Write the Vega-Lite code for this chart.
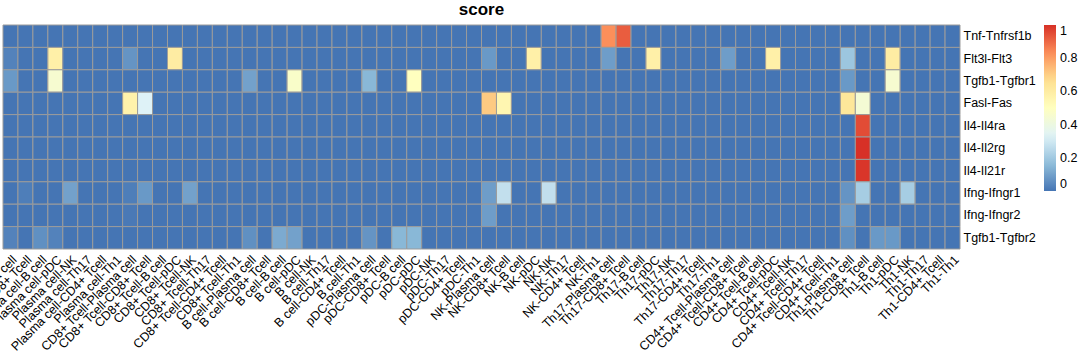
{
  "$schema": "https://vega.github.io/schema/vega-lite/v6.json",
  "autosize": {"type": "none"},
  "width": 957,
  "height": 224,
  "padding": {"left": 3, "top": 25, "right": 120, "bottom": 112},
  "background": "white",
  "title": {"text": "score", "fontSize": 17, "fontWeight": "bold", "font": "Liberation Sans", "color": "#000000", "anchor": "middle", "offset": 6},
  "config": {"view": {"stroke": null}},
  "datasets": {
    "cells": [
{"x":"Plasma cell-Plasma cell","y":"Tnf-Tnfrsf1b","v":0},{"x":"Plasma cell-CD8+ Tcell","y":"Tnf-Tnfrsf1b","v":0},{"x":"Plasma cell-B cell","y":"Tnf-Tnfrsf1b","v":0},{"x":"Plasma cell-pDC","y":"Tnf-Tnfrsf1b","v":0},{"x":"Plasma cell-NK","y":"Tnf-Tnfrsf1b","v":0},{"x":"Plasma cell-Th17","y":"Tnf-Tnfrsf1b","v":0},{"x":"Plasma cell-CD4+ Tcell","y":"Tnf-Tnfrsf1b","v":0},{"x":"Plasma cell-Th1","y":"Tnf-Tnfrsf1b","v":0},
{"x":"CD8+ Tcell-Plasma cell","y":"Tnf-Tnfrsf1b","v":0},{"x":"CD8+ Tcell-CD8+ Tcell","y":"Tnf-Tnfrsf1b","v":0},{"x":"CD8+ Tcell-B cell","y":"Tnf-Tnfrsf1b","v":0},{"x":"CD8+ Tcell-pDC","y":"Tnf-Tnfrsf1b","v":0},{"x":"CD8+ Tcell-NK","y":"Tnf-Tnfrsf1b","v":0},{"x":"CD8+ Tcell-Th17","y":"Tnf-Tnfrsf1b","v":0},{"x":"CD8+ Tcell-CD4+ Tcell","y":"Tnf-Tnfrsf1b","v":0},{"x":"CD8+ Tcell-Th1","y":"Tnf-Tnfrsf1b","v":0},
{"x":"B cell-Plasma cell","y":"Tnf-Tnfrsf1b","v":0},{"x":"B cell-CD8+ Tcell","y":"Tnf-Tnfrsf1b","v":0},{"x":"B cell-B cell","y":"Tnf-Tnfrsf1b","v":0},{"x":"B cell-pDC","y":"Tnf-Tnfrsf1b","v":0},{"x":"B cell-NK","y":"Tnf-Tnfrsf1b","v":0},{"x":"B cell-Th17","y":"Tnf-Tnfrsf1b","v":0},{"x":"B cell-CD4+ Tcell","y":"Tnf-Tnfrsf1b","v":0},{"x":"B cell-Th1","y":"Tnf-Tnfrsf1b","v":0},
{"x":"pDC-Plasma cell","y":"Tnf-Tnfrsf1b","v":0},{"x":"pDC-CD8+ Tcell","y":"Tnf-Tnfrsf1b","v":0},{"x":"pDC-B cell","y":"Tnf-Tnfrsf1b","v":0},{"x":"pDC-pDC","y":"Tnf-Tnfrsf1b","v":0},{"x":"pDC-NK","y":"Tnf-Tnfrsf1b","v":0},{"x":"pDC-Th17","y":"Tnf-Tnfrsf1b","v":0},{"x":"pDC-CD4+ Tcell","y":"Tnf-Tnfrsf1b","v":0},{"x":"pDC-Th1","y":"Tnf-Tnfrsf1b","v":0},
{"x":"NK-Plasma cell","y":"Tnf-Tnfrsf1b","v":0},{"x":"NK-CD8+ Tcell","y":"Tnf-Tnfrsf1b","v":0},{"x":"NK-B cell","y":"Tnf-Tnfrsf1b","v":0},{"x":"NK-pDC","y":"Tnf-Tnfrsf1b","v":0},{"x":"NK-NK","y":"Tnf-Tnfrsf1b","v":0},{"x":"NK-Th17","y":"Tnf-Tnfrsf1b","v":0},{"x":"NK-CD4+ Tcell","y":"Tnf-Tnfrsf1b","v":0},{"x":"NK-Th1","y":"Tnf-Tnfrsf1b","v":0},
{"x":"Th17-Plasma cell","y":"Tnf-Tnfrsf1b","v":0.83},{"x":"Th17-CD8+ Tcell","y":"Tnf-Tnfrsf1b","v":0.92},{"x":"Th17-B cell","y":"Tnf-Tnfrsf1b","v":0},{"x":"Th17-pDC","y":"Tnf-Tnfrsf1b","v":0},{"x":"Th17-NK","y":"Tnf-Tnfrsf1b","v":0},{"x":"Th17-Th17","y":"Tnf-Tnfrsf1b","v":0},{"x":"Th17-CD4+ Tcell","y":"Tnf-Tnfrsf1b","v":0},{"x":"Th17-Th1","y":"Tnf-Tnfrsf1b","v":0},
{"x":"CD4+ Tcell-Plasma cell","y":"Tnf-Tnfrsf1b","v":0},{"x":"CD4+ Tcell-CD8+ Tcell","y":"Tnf-Tnfrsf1b","v":0},{"x":"CD4+ Tcell-B cell","y":"Tnf-Tnfrsf1b","v":0},{"x":"CD4+ Tcell-pDC","y":"Tnf-Tnfrsf1b","v":0},{"x":"CD4+ Tcell-NK","y":"Tnf-Tnfrsf1b","v":0},{"x":"CD4+ Tcell-Th17","y":"Tnf-Tnfrsf1b","v":0},{"x":"CD4+ Tcell-CD4+ Tcell","y":"Tnf-Tnfrsf1b","v":0},{"x":"CD4+ Tcell-Th1","y":"Tnf-Tnfrsf1b","v":0},
{"x":"Th1-Plasma cell","y":"Tnf-Tnfrsf1b","v":0},{"x":"Th1-CD8+ Tcell","y":"Tnf-Tnfrsf1b","v":0},{"x":"Th1-B cell","y":"Tnf-Tnfrsf1b","v":0},{"x":"Th1-pDC","y":"Tnf-Tnfrsf1b","v":0},{"x":"Th1-NK","y":"Tnf-Tnfrsf1b","v":0},{"x":"Th1-Th17","y":"Tnf-Tnfrsf1b","v":0},{"x":"Th1-CD4+ Tcell","y":"Tnf-Tnfrsf1b","v":0},{"x":"Th1-Th1","y":"Tnf-Tnfrsf1b","v":0},

{"x":"Plasma cell-Plasma cell","y":"Flt3l-Flt3","v":0.03},{"x":"Plasma cell-CD8+ Tcell","y":"Flt3l-Flt3","v":0},{"x":"Plasma cell-B cell","y":"Flt3l-Flt3","v":0},{"x":"Plasma cell-pDC","y":"Flt3l-Flt3","v":0.58},{"x":"Plasma cell-NK","y":"Flt3l-Flt3","v":0},{"x":"Plasma cell-Th17","y":"Flt3l-Flt3","v":0},{"x":"Plasma cell-CD4+ Tcell","y":"Flt3l-Flt3","v":0},{"x":"Plasma cell-Th1","y":"Flt3l-Flt3","v":0},
{"x":"CD8+ Tcell-Plasma cell","y":"Flt3l-Flt3","v":0.07},{"x":"CD8+ Tcell-CD8+ Tcell","y":"Flt3l-Flt3","v":0},{"x":"CD8+ Tcell-B cell","y":"Flt3l-Flt3","v":0},{"x":"CD8+ Tcell-pDC","y":"Flt3l-Flt3","v":0.6},{"x":"CD8+ Tcell-NK","y":"Flt3l-Flt3","v":0},{"x":"CD8+ Tcell-Th17","y":"Flt3l-Flt3","v":0},{"x":"CD8+ Tcell-CD4+ Tcell","y":"Flt3l-Flt3","v":0},{"x":"CD8+ Tcell-Th1","y":"Flt3l-Flt3","v":0},
{"x":"B cell-Plasma cell","y":"Flt3l-Flt3","v":0},{"x":"B cell-CD8+ Tcell","y":"Flt3l-Flt3","v":0},{"x":"B cell-B cell","y":"Flt3l-Flt3","v":0},{"x":"B cell-pDC","y":"Flt3l-Flt3","v":0},{"x":"B cell-NK","y":"Flt3l-Flt3","v":0},{"x":"B cell-Th17","y":"Flt3l-Flt3","v":0},{"x":"B cell-CD4+ Tcell","y":"Flt3l-Flt3","v":0},{"x":"B cell-Th1","y":"Flt3l-Flt3","v":0},
{"x":"pDC-Plasma cell","y":"Flt3l-Flt3","v":0},{"x":"pDC-CD8+ Tcell","y":"Flt3l-Flt3","v":0},{"x":"pDC-B cell","y":"Flt3l-Flt3","v":0},{"x":"pDC-pDC","y":"Flt3l-Flt3","v":0},{"x":"pDC-NK","y":"Flt3l-Flt3","v":0},{"x":"pDC-Th17","y":"Flt3l-Flt3","v":0},{"x":"pDC-CD4+ Tcell","y":"Flt3l-Flt3","v":0},{"x":"pDC-Th1","y":"Flt3l-Flt3","v":0},
{"x":"NK-Plasma cell","y":"Flt3l-Flt3","v":0.08},{"x":"NK-CD8+ Tcell","y":"Flt3l-Flt3","v":0},{"x":"NK-B cell","y":"Flt3l-Flt3","v":0},{"x":"NK-pDC","y":"Flt3l-Flt3","v":0.58},{"x":"NK-NK","y":"Flt3l-Flt3","v":0},{"x":"NK-Th17","y":"Flt3l-Flt3","v":0},{"x":"NK-CD4+ Tcell","y":"Flt3l-Flt3","v":0},{"x":"NK-Th1","y":"Flt3l-Flt3","v":0},
{"x":"Th17-Plasma cell","y":"Flt3l-Flt3","v":0.09},{"x":"Th17-CD8+ Tcell","y":"Flt3l-Flt3","v":0},{"x":"Th17-B cell","y":"Flt3l-Flt3","v":0},{"x":"Th17-pDC","y":"Flt3l-Flt3","v":0.58},{"x":"Th17-NK","y":"Flt3l-Flt3","v":0},{"x":"Th17-Th17","y":"Flt3l-Flt3","v":0},{"x":"Th17-CD4+ Tcell","y":"Flt3l-Flt3","v":0},{"x":"Th17-Th1","y":"Flt3l-Flt3","v":0},
{"x":"CD4+ Tcell-Plasma cell","y":"Flt3l-Flt3","v":0.09},{"x":"CD4+ Tcell-CD8+ Tcell","y":"Flt3l-Flt3","v":0},{"x":"CD4+ Tcell-B cell","y":"Flt3l-Flt3","v":0},{"x":"CD4+ Tcell-pDC","y":"Flt3l-Flt3","v":0.58},{"x":"CD4+ Tcell-NK","y":"Flt3l-Flt3","v":0},{"x":"CD4+ Tcell-Th17","y":"Flt3l-Flt3","v":0},{"x":"CD4+ Tcell-CD4+ Tcell","y":"Flt3l-Flt3","v":0},{"x":"CD4+ Tcell-Th1","y":"Flt3l-Flt3","v":0},
{"x":"Th1-Plasma cell","y":"Flt3l-Flt3","v":0.19},{"x":"Th1-CD8+ Tcell","y":"Flt3l-Flt3","v":0},{"x":"Th1-B cell","y":"Flt3l-Flt3","v":0},{"x":"Th1-pDC","y":"Flt3l-Flt3","v":0.6},{"x":"Th1-NK","y":"Flt3l-Flt3","v":0},{"x":"Th1-Th17","y":"Flt3l-Flt3","v":0},{"x":"Th1-CD4+ Tcell","y":"Flt3l-Flt3","v":0},{"x":"Th1-Th1","y":"Flt3l-Flt3","v":0},

{"x":"Plasma cell-Plasma cell","y":"Tgfb1-Tgfbr1","v":0.08},{"x":"Plasma cell-CD8+ Tcell","y":"Tgfb1-Tgfbr1","v":0},{"x":"Plasma cell-B cell","y":"Tgfb1-Tgfbr1","v":0},{"x":"Plasma cell-pDC","y":"Tgfb1-Tgfbr1","v":0.45},{"x":"Plasma cell-NK","y":"Tgfb1-Tgfbr1","v":0},{"x":"Plasma cell-Th17","y":"Tgfb1-Tgfbr1","v":0},{"x":"Plasma cell-CD4+ Tcell","y":"Tgfb1-Tgfbr1","v":0},{"x":"Plasma cell-Th1","y":"Tgfb1-Tgfbr1","v":0},
{"x":"CD8+ Tcell-Plasma cell","y":"Tgfb1-Tgfbr1","v":0},{"x":"CD8+ Tcell-CD8+ Tcell","y":"Tgfb1-Tgfbr1","v":0},{"x":"CD8+ Tcell-B cell","y":"Tgfb1-Tgfbr1","v":0},{"x":"CD8+ Tcell-pDC","y":"Tgfb1-Tgfbr1","v":0},{"x":"CD8+ Tcell-NK","y":"Tgfb1-Tgfbr1","v":0},{"x":"CD8+ Tcell-Th17","y":"Tgfb1-Tgfbr1","v":0},{"x":"CD8+ Tcell-CD4+ Tcell","y":"Tgfb1-Tgfbr1","v":0},{"x":"CD8+ Tcell-Th1","y":"Tgfb1-Tgfbr1","v":0},
{"x":"B cell-Plasma cell","y":"Tgfb1-Tgfbr1","v":0.1},{"x":"B cell-CD8+ Tcell","y":"Tgfb1-Tgfbr1","v":0},{"x":"B cell-B cell","y":"Tgfb1-Tgfbr1","v":0},{"x":"B cell-pDC","y":"Tgfb1-Tgfbr1","v":0.47},{"x":"B cell-NK","y":"Tgfb1-Tgfbr1","v":0},{"x":"B cell-Th17","y":"Tgfb1-Tgfbr1","v":0},{"x":"B cell-CD4+ Tcell","y":"Tgfb1-Tgfbr1","v":0},{"x":"B cell-Th1","y":"Tgfb1-Tgfbr1","v":0},
{"x":"pDC-Plasma cell","y":"Tgfb1-Tgfbr1","v":0.15},{"x":"pDC-CD8+ Tcell","y":"Tgfb1-Tgfbr1","v":0},{"x":"pDC-B cell","y":"Tgfb1-Tgfbr1","v":0},{"x":"pDC-pDC","y":"Tgfb1-Tgfbr1","v":0.5},{"x":"pDC-NK","y":"Tgfb1-Tgfbr1","v":0},{"x":"pDC-Th17","y":"Tgfb1-Tgfbr1","v":0},{"x":"pDC-CD4+ Tcell","y":"Tgfb1-Tgfbr1","v":0},{"x":"pDC-Th1","y":"Tgfb1-Tgfbr1","v":0},
{"x":"NK-Plasma cell","y":"Tgfb1-Tgfbr1","v":0},{"x":"NK-CD8+ Tcell","y":"Tgfb1-Tgfbr1","v":0},{"x":"NK-B cell","y":"Tgfb1-Tgfbr1","v":0},{"x":"NK-pDC","y":"Tgfb1-Tgfbr1","v":0},{"x":"NK-NK","y":"Tgfb1-Tgfbr1","v":0},{"x":"NK-Th17","y":"Tgfb1-Tgfbr1","v":0},{"x":"NK-CD4+ Tcell","y":"Tgfb1-Tgfbr1","v":0},{"x":"NK-Th1","y":"Tgfb1-Tgfbr1","v":0},
{"x":"Th17-Plasma cell","y":"Tgfb1-Tgfbr1","v":0},{"x":"Th17-CD8+ Tcell","y":"Tgfb1-Tgfbr1","v":0},{"x":"Th17-B cell","y":"Tgfb1-Tgfbr1","v":0},{"x":"Th17-pDC","y":"Tgfb1-Tgfbr1","v":0},{"x":"Th17-NK","y":"Tgfb1-Tgfbr1","v":0},{"x":"Th17-Th17","y":"Tgfb1-Tgfbr1","v":0},{"x":"Th17-CD4+ Tcell","y":"Tgfb1-Tgfbr1","v":0},{"x":"Th17-Th1","y":"Tgfb1-Tgfbr1","v":0},
{"x":"CD4+ Tcell-Plasma cell","y":"Tgfb1-Tgfbr1","v":0},{"x":"CD4+ Tcell-CD8+ Tcell","y":"Tgfb1-Tgfbr1","v":0},{"x":"CD4+ Tcell-B cell","y":"Tgfb1-Tgfbr1","v":0},{"x":"CD4+ Tcell-pDC","y":"Tgfb1-Tgfbr1","v":0},{"x":"CD4+ Tcell-NK","y":"Tgfb1-Tgfbr1","v":0},{"x":"CD4+ Tcell-Th17","y":"Tgfb1-Tgfbr1","v":0},{"x":"CD4+ Tcell-CD4+ Tcell","y":"Tgfb1-Tgfbr1","v":0},{"x":"CD4+ Tcell-Th1","y":"Tgfb1-Tgfbr1","v":0},
{"x":"Th1-Plasma cell","y":"Tgfb1-Tgfbr1","v":0.08},{"x":"Th1-CD8+ Tcell","y":"Tgfb1-Tgfbr1","v":0},{"x":"Th1-B cell","y":"Tgfb1-Tgfbr1","v":0},{"x":"Th1-pDC","y":"Tgfb1-Tgfbr1","v":0.45},{"x":"Th1-NK","y":"Tgfb1-Tgfbr1","v":0},{"x":"Th1-Th17","y":"Tgfb1-Tgfbr1","v":0},{"x":"Th1-CD4+ Tcell","y":"Tgfb1-Tgfbr1","v":0},{"x":"Th1-Th1","y":"Tgfb1-Tgfbr1","v":0},

{"x":"Plasma cell-Plasma cell","y":"Fasl-Fas","v":0},{"x":"Plasma cell-CD8+ Tcell","y":"Fasl-Fas","v":0},{"x":"Plasma cell-B cell","y":"Fasl-Fas","v":0},{"x":"Plasma cell-pDC","y":"Fasl-Fas","v":0},{"x":"Plasma cell-NK","y":"Fasl-Fas","v":0},{"x":"Plasma cell-Th17","y":"Fasl-Fas","v":0},{"x":"Plasma cell-CD4+ Tcell","y":"Fasl-Fas","v":0},{"x":"Plasma cell-Th1","y":"Fasl-Fas","v":0},
{"x":"CD8+ Tcell-Plasma cell","y":"Fasl-Fas","v":0.57},{"x":"CD8+ Tcell-CD8+ Tcell","y":"Fasl-Fas","v":0.33},{"x":"CD8+ Tcell-B cell","y":"Fasl-Fas","v":0},{"x":"CD8+ Tcell-pDC","y":"Fasl-Fas","v":0},{"x":"CD8+ Tcell-NK","y":"Fasl-Fas","v":0},{"x":"CD8+ Tcell-Th17","y":"Fasl-Fas","v":0},{"x":"CD8+ Tcell-CD4+ Tcell","y":"Fasl-Fas","v":0},{"x":"CD8+ Tcell-Th1","y":"Fasl-Fas","v":0},
{"x":"B cell-Plasma cell","y":"Fasl-Fas","v":0},{"x":"B cell-CD8+ Tcell","y":"Fasl-Fas","v":0},{"x":"B cell-B cell","y":"Fasl-Fas","v":0},{"x":"B cell-pDC","y":"Fasl-Fas","v":0},{"x":"B cell-NK","y":"Fasl-Fas","v":0},{"x":"B cell-Th17","y":"Fasl-Fas","v":0},{"x":"B cell-CD4+ Tcell","y":"Fasl-Fas","v":0},{"x":"B cell-Th1","y":"Fasl-Fas","v":0},
{"x":"pDC-Plasma cell","y":"Fasl-Fas","v":0},{"x":"pDC-CD8+ Tcell","y":"Fasl-Fas","v":0},{"x":"pDC-B cell","y":"Fasl-Fas","v":0},{"x":"pDC-pDC","y":"Fasl-Fas","v":0},{"x":"pDC-NK","y":"Fasl-Fas","v":0},{"x":"pDC-Th17","y":"Fasl-Fas","v":0},{"x":"pDC-CD4+ Tcell","y":"Fasl-Fas","v":0},{"x":"pDC-Th1","y":"Fasl-Fas","v":0},
{"x":"NK-Plasma cell","y":"Fasl-Fas","v":0.71},{"x":"NK-CD8+ Tcell","y":"Fasl-Fas","v":0.55},{"x":"NK-B cell","y":"Fasl-Fas","v":0},{"x":"NK-pDC","y":"Fasl-Fas","v":0},{"x":"NK-NK","y":"Fasl-Fas","v":0},{"x":"NK-Th17","y":"Fasl-Fas","v":0},{"x":"NK-CD4+ Tcell","y":"Fasl-Fas","v":0},{"x":"NK-Th1","y":"Fasl-Fas","v":0},
{"x":"Th17-Plasma cell","y":"Fasl-Fas","v":0},{"x":"Th17-CD8+ Tcell","y":"Fasl-Fas","v":0},{"x":"Th17-B cell","y":"Fasl-Fas","v":0},{"x":"Th17-pDC","y":"Fasl-Fas","v":0},{"x":"Th17-NK","y":"Fasl-Fas","v":0},{"x":"Th17-Th17","y":"Fasl-Fas","v":0},{"x":"Th17-CD4+ Tcell","y":"Fasl-Fas","v":0},{"x":"Th17-Th1","y":"Fasl-Fas","v":0},
{"x":"CD4+ Tcell-Plasma cell","y":"Fasl-Fas","v":0},{"x":"CD4+ Tcell-CD8+ Tcell","y":"Fasl-Fas","v":0},{"x":"CD4+ Tcell-B cell","y":"Fasl-Fas","v":0},{"x":"CD4+ Tcell-pDC","y":"Fasl-Fas","v":0},{"x":"CD4+ Tcell-NK","y":"Fasl-Fas","v":0},{"x":"CD4+ Tcell-Th17","y":"Fasl-Fas","v":0},{"x":"CD4+ Tcell-CD4+ Tcell","y":"Fasl-Fas","v":0},{"x":"CD4+ Tcell-Th1","y":"Fasl-Fas","v":0},
{"x":"Th1-Plasma cell","y":"Fasl-Fas","v":0.63},{"x":"Th1-CD8+ Tcell","y":"Fasl-Fas","v":0.44},{"x":"Th1-B cell","y":"Fasl-Fas","v":0},{"x":"Th1-pDC","y":"Fasl-Fas","v":0},{"x":"Th1-NK","y":"Fasl-Fas","v":0},{"x":"Th1-Th17","y":"Fasl-Fas","v":0},{"x":"Th1-CD4+ Tcell","y":"Fasl-Fas","v":0},{"x":"Th1-Th1","y":"Fasl-Fas","v":0},

{"x":"Plasma cell-Plasma cell","y":"Il4-Il4ra","v":0},{"x":"Plasma cell-CD8+ Tcell","y":"Il4-Il4ra","v":0},{"x":"Plasma cell-B cell","y":"Il4-Il4ra","v":0},{"x":"Plasma cell-pDC","y":"Il4-Il4ra","v":0},{"x":"Plasma cell-NK","y":"Il4-Il4ra","v":0},{"x":"Plasma cell-Th17","y":"Il4-Il4ra","v":0},{"x":"Plasma cell-CD4+ Tcell","y":"Il4-Il4ra","v":0},{"x":"Plasma cell-Th1","y":"Il4-Il4ra","v":0},
{"x":"CD8+ Tcell-Plasma cell","y":"Il4-Il4ra","v":0},{"x":"CD8+ Tcell-CD8+ Tcell","y":"Il4-Il4ra","v":0},{"x":"CD8+ Tcell-B cell","y":"Il4-Il4ra","v":0},{"x":"CD8+ Tcell-pDC","y":"Il4-Il4ra","v":0},{"x":"CD8+ Tcell-NK","y":"Il4-Il4ra","v":0},{"x":"CD8+ Tcell-Th17","y":"Il4-Il4ra","v":0},{"x":"CD8+ Tcell-CD4+ Tcell","y":"Il4-Il4ra","v":0},{"x":"CD8+ Tcell-Th1","y":"Il4-Il4ra","v":0},
{"x":"B cell-Plasma cell","y":"Il4-Il4ra","v":0},{"x":"B cell-CD8+ Tcell","y":"Il4-Il4ra","v":0},{"x":"B cell-B cell","y":"Il4-Il4ra","v":0},{"x":"B cell-pDC","y":"Il4-Il4ra","v":0},{"x":"B cell-NK","y":"Il4-Il4ra","v":0},{"x":"B cell-Th17","y":"Il4-Il4ra","v":0},{"x":"B cell-CD4+ Tcell","y":"Il4-Il4ra","v":0},{"x":"B cell-Th1","y":"Il4-Il4ra","v":0},
{"x":"pDC-Plasma cell","y":"Il4-Il4ra","v":0},{"x":"pDC-CD8+ Tcell","y":"Il4-Il4ra","v":0},{"x":"pDC-B cell","y":"Il4-Il4ra","v":0},{"x":"pDC-pDC","y":"Il4-Il4ra","v":0},{"x":"pDC-NK","y":"Il4-Il4ra","v":0},{"x":"pDC-Th17","y":"Il4-Il4ra","v":0},{"x":"pDC-CD4+ Tcell","y":"Il4-Il4ra","v":0},{"x":"pDC-Th1","y":"Il4-Il4ra","v":0},
{"x":"NK-Plasma cell","y":"Il4-Il4ra","v":0},{"x":"NK-CD8+ Tcell","y":"Il4-Il4ra","v":0},{"x":"NK-B cell","y":"Il4-Il4ra","v":0},{"x":"NK-pDC","y":"Il4-Il4ra","v":0},{"x":"NK-NK","y":"Il4-Il4ra","v":0},{"x":"NK-Th17","y":"Il4-Il4ra","v":0},{"x":"NK-CD4+ Tcell","y":"Il4-Il4ra","v":0},{"x":"NK-Th1","y":"Il4-Il4ra","v":0},
{"x":"Th17-Plasma cell","y":"Il4-Il4ra","v":0},{"x":"Th17-CD8+ Tcell","y":"Il4-Il4ra","v":0},{"x":"Th17-B cell","y":"Il4-Il4ra","v":0},{"x":"Th17-pDC","y":"Il4-Il4ra","v":0},{"x":"Th17-NK","y":"Il4-Il4ra","v":0},{"x":"Th17-Th17","y":"Il4-Il4ra","v":0},{"x":"Th17-CD4+ Tcell","y":"Il4-Il4ra","v":0},{"x":"Th17-Th1","y":"Il4-Il4ra","v":0},
{"x":"CD4+ Tcell-Plasma cell","y":"Il4-Il4ra","v":0},{"x":"CD4+ Tcell-CD8+ Tcell","y":"Il4-Il4ra","v":0},{"x":"CD4+ Tcell-B cell","y":"Il4-Il4ra","v":0},{"x":"CD4+ Tcell-pDC","y":"Il4-Il4ra","v":0},{"x":"CD4+ Tcell-NK","y":"Il4-Il4ra","v":0},{"x":"CD4+ Tcell-Th17","y":"Il4-Il4ra","v":0},{"x":"CD4+ Tcell-CD4+ Tcell","y":"Il4-Il4ra","v":0},{"x":"CD4+ Tcell-Th1","y":"Il4-Il4ra","v":0},
{"x":"Th1-Plasma cell","y":"Il4-Il4ra","v":0},{"x":"Th1-CD8+ Tcell","y":"Il4-Il4ra","v":0.95},{"x":"Th1-B cell","y":"Il4-Il4ra","v":0},{"x":"Th1-pDC","y":"Il4-Il4ra","v":0},{"x":"Th1-NK","y":"Il4-Il4ra","v":0},{"x":"Th1-Th17","y":"Il4-Il4ra","v":0},{"x":"Th1-CD4+ Tcell","y":"Il4-Il4ra","v":0},{"x":"Th1-Th1","y":"Il4-Il4ra","v":0},

{"x":"Plasma cell-Plasma cell","y":"Il4-Il2rg","v":0},{"x":"Plasma cell-CD8+ Tcell","y":"Il4-Il2rg","v":0},{"x":"Plasma cell-B cell","y":"Il4-Il2rg","v":0},{"x":"Plasma cell-pDC","y":"Il4-Il2rg","v":0},{"x":"Plasma cell-NK","y":"Il4-Il2rg","v":0},{"x":"Plasma cell-Th17","y":"Il4-Il2rg","v":0},{"x":"Plasma cell-CD4+ Tcell","y":"Il4-Il2rg","v":0},{"x":"Plasma cell-Th1","y":"Il4-Il2rg","v":0},
{"x":"CD8+ Tcell-Plasma cell","y":"Il4-Il2rg","v":0},{"x":"CD8+ Tcell-CD8+ Tcell","y":"Il4-Il2rg","v":0},{"x":"CD8+ Tcell-B cell","y":"Il4-Il2rg","v":0},{"x":"CD8+ Tcell-pDC","y":"Il4-Il2rg","v":0},{"x":"CD8+ Tcell-NK","y":"Il4-Il2rg","v":0},{"x":"CD8+ Tcell-Th17","y":"Il4-Il2rg","v":0},{"x":"CD8+ Tcell-CD4+ Tcell","y":"Il4-Il2rg","v":0},{"x":"CD8+ Tcell-Th1","y":"Il4-Il2rg","v":0},
{"x":"B cell-Plasma cell","y":"Il4-Il2rg","v":0},{"x":"B cell-CD8+ Tcell","y":"Il4-Il2rg","v":0},{"x":"B cell-B cell","y":"Il4-Il2rg","v":0},{"x":"B cell-pDC","y":"Il4-Il2rg","v":0},{"x":"B cell-NK","y":"Il4-Il2rg","v":0},{"x":"B cell-Th17","y":"Il4-Il2rg","v":0},{"x":"B cell-CD4+ Tcell","y":"Il4-Il2rg","v":0},{"x":"B cell-Th1","y":"Il4-Il2rg","v":0},
{"x":"pDC-Plasma cell","y":"Il4-Il2rg","v":0},{"x":"pDC-CD8+ Tcell","y":"Il4-Il2rg","v":0},{"x":"pDC-B cell","y":"Il4-Il2rg","v":0},{"x":"pDC-pDC","y":"Il4-Il2rg","v":0},{"x":"pDC-NK","y":"Il4-Il2rg","v":0},{"x":"pDC-Th17","y":"Il4-Il2rg","v":0},{"x":"pDC-CD4+ Tcell","y":"Il4-Il2rg","v":0},{"x":"pDC-Th1","y":"Il4-Il2rg","v":0},
{"x":"NK-Plasma cell","y":"Il4-Il2rg","v":0},{"x":"NK-CD8+ Tcell","y":"Il4-Il2rg","v":0},{"x":"NK-B cell","y":"Il4-Il2rg","v":0},{"x":"NK-pDC","y":"Il4-Il2rg","v":0},{"x":"NK-NK","y":"Il4-Il2rg","v":0},{"x":"NK-Th17","y":"Il4-Il2rg","v":0},{"x":"NK-CD4+ Tcell","y":"Il4-Il2rg","v":0},{"x":"NK-Th1","y":"Il4-Il2rg","v":0},
{"x":"Th17-Plasma cell","y":"Il4-Il2rg","v":0},{"x":"Th17-CD8+ Tcell","y":"Il4-Il2rg","v":0},{"x":"Th17-B cell","y":"Il4-Il2rg","v":0},{"x":"Th17-pDC","y":"Il4-Il2rg","v":0},{"x":"Th17-NK","y":"Il4-Il2rg","v":0},{"x":"Th17-Th17","y":"Il4-Il2rg","v":0},{"x":"Th17-CD4+ Tcell","y":"Il4-Il2rg","v":0},{"x":"Th17-Th1","y":"Il4-Il2rg","v":0},
{"x":"CD4+ Tcell-Plasma cell","y":"Il4-Il2rg","v":0},{"x":"CD4+ Tcell-CD8+ Tcell","y":"Il4-Il2rg","v":0},{"x":"CD4+ Tcell-B cell","y":"Il4-Il2rg","v":0},{"x":"CD4+ Tcell-pDC","y":"Il4-Il2rg","v":0},{"x":"CD4+ Tcell-NK","y":"Il4-Il2rg","v":0},{"x":"CD4+ Tcell-Th17","y":"Il4-Il2rg","v":0},{"x":"CD4+ Tcell-CD4+ Tcell","y":"Il4-Il2rg","v":0},{"x":"CD4+ Tcell-Th1","y":"Il4-Il2rg","v":0},
{"x":"Th1-Plasma cell","y":"Il4-Il2rg","v":0},{"x":"Th1-CD8+ Tcell","y":"Il4-Il2rg","v":1},{"x":"Th1-B cell","y":"Il4-Il2rg","v":0},{"x":"Th1-pDC","y":"Il4-Il2rg","v":0},{"x":"Th1-NK","y":"Il4-Il2rg","v":0},{"x":"Th1-Th17","y":"Il4-Il2rg","v":0},{"x":"Th1-CD4+ Tcell","y":"Il4-Il2rg","v":0},{"x":"Th1-Th1","y":"Il4-Il2rg","v":0},

{"x":"Plasma cell-Plasma cell","y":"Il4-Il21r","v":0},{"x":"Plasma cell-CD8+ Tcell","y":"Il4-Il21r","v":0},{"x":"Plasma cell-B cell","y":"Il4-Il21r","v":0},{"x":"Plasma cell-pDC","y":"Il4-Il21r","v":0},{"x":"Plasma cell-NK","y":"Il4-Il21r","v":0},{"x":"Plasma cell-Th17","y":"Il4-Il21r","v":0},{"x":"Plasma cell-CD4+ Tcell","y":"Il4-Il21r","v":0},{"x":"Plasma cell-Th1","y":"Il4-Il21r","v":0},
{"x":"CD8+ Tcell-Plasma cell","y":"Il4-Il21r","v":0},{"x":"CD8+ Tcell-CD8+ Tcell","y":"Il4-Il21r","v":0},{"x":"CD8+ Tcell-B cell","y":"Il4-Il21r","v":0},{"x":"CD8+ Tcell-pDC","y":"Il4-Il21r","v":0},{"x":"CD8+ Tcell-NK","y":"Il4-Il21r","v":0},{"x":"CD8+ Tcell-Th17","y":"Il4-Il21r","v":0},{"x":"CD8+ Tcell-CD4+ Tcell","y":"Il4-Il21r","v":0},{"x":"CD8+ Tcell-Th1","y":"Il4-Il21r","v":0},
{"x":"B cell-Plasma cell","y":"Il4-Il21r","v":0},{"x":"B cell-CD8+ Tcell","y":"Il4-Il21r","v":0},{"x":"B cell-B cell","y":"Il4-Il21r","v":0},{"x":"B cell-pDC","y":"Il4-Il21r","v":0},{"x":"B cell-NK","y":"Il4-Il21r","v":0},{"x":"B cell-Th17","y":"Il4-Il21r","v":0},{"x":"B cell-CD4+ Tcell","y":"Il4-Il21r","v":0},{"x":"B cell-Th1","y":"Il4-Il21r","v":0},
{"x":"pDC-Plasma cell","y":"Il4-Il21r","v":0},{"x":"pDC-CD8+ Tcell","y":"Il4-Il21r","v":0},{"x":"pDC-B cell","y":"Il4-Il21r","v":0},{"x":"pDC-pDC","y":"Il4-Il21r","v":0},{"x":"pDC-NK","y":"Il4-Il21r","v":0},{"x":"pDC-Th17","y":"Il4-Il21r","v":0},{"x":"pDC-CD4+ Tcell","y":"Il4-Il21r","v":0},{"x":"pDC-Th1","y":"Il4-Il21r","v":0},
{"x":"NK-Plasma cell","y":"Il4-Il21r","v":0},{"x":"NK-CD8+ Tcell","y":"Il4-Il21r","v":0},{"x":"NK-B cell","y":"Il4-Il21r","v":0},{"x":"NK-pDC","y":"Il4-Il21r","v":0},{"x":"NK-NK","y":"Il4-Il21r","v":0},{"x":"NK-Th17","y":"Il4-Il21r","v":0},{"x":"NK-CD4+ Tcell","y":"Il4-Il21r","v":0},{"x":"NK-Th1","y":"Il4-Il21r","v":0},
{"x":"Th17-Plasma cell","y":"Il4-Il21r","v":0},{"x":"Th17-CD8+ Tcell","y":"Il4-Il21r","v":0},{"x":"Th17-B cell","y":"Il4-Il21r","v":0},{"x":"Th17-pDC","y":"Il4-Il21r","v":0},{"x":"Th17-NK","y":"Il4-Il21r","v":0},{"x":"Th17-Th17","y":"Il4-Il21r","v":0},{"x":"Th17-CD4+ Tcell","y":"Il4-Il21r","v":0},{"x":"Th17-Th1","y":"Il4-Il21r","v":0},
{"x":"CD4+ Tcell-Plasma cell","y":"Il4-Il21r","v":0},{"x":"CD4+ Tcell-CD8+ Tcell","y":"Il4-Il21r","v":0},{"x":"CD4+ Tcell-B cell","y":"Il4-Il21r","v":0},{"x":"CD4+ Tcell-pDC","y":"Il4-Il21r","v":0},{"x":"CD4+ Tcell-NK","y":"Il4-Il21r","v":0},{"x":"CD4+ Tcell-Th17","y":"Il4-Il21r","v":0},{"x":"CD4+ Tcell-CD4+ Tcell","y":"Il4-Il21r","v":0},{"x":"CD4+ Tcell-Th1","y":"Il4-Il21r","v":0},
{"x":"Th1-Plasma cell","y":"Il4-Il21r","v":0},{"x":"Th1-CD8+ Tcell","y":"Il4-Il21r","v":0.99},{"x":"Th1-B cell","y":"Il4-Il21r","v":0},{"x":"Th1-pDC","y":"Il4-Il21r","v":0},{"x":"Th1-NK","y":"Il4-Il21r","v":0},{"x":"Th1-Th17","y":"Il4-Il21r","v":0},{"x":"Th1-CD4+ Tcell","y":"Il4-Il21r","v":0},{"x":"Th1-Th1","y":"Il4-Il21r","v":0},

{"x":"Plasma cell-Plasma cell","y":"Ifng-Ifngr1","v":0},{"x":"Plasma cell-CD8+ Tcell","y":"Ifng-Ifngr1","v":0.02},{"x":"Plasma cell-B cell","y":"Ifng-Ifngr1","v":0},{"x":"Plasma cell-pDC","y":"Ifng-Ifngr1","v":0},{"x":"Plasma cell-NK","y":"Ifng-Ifngr1","v":0.1},{"x":"Plasma cell-Th17","y":"Ifng-Ifngr1","v":0},{"x":"Plasma cell-CD4+ Tcell","y":"Ifng-Ifngr1","v":0},{"x":"Plasma cell-Th1","y":"Ifng-Ifngr1","v":0},
{"x":"CD8+ Tcell-Plasma cell","y":"Ifng-Ifngr1","v":0.02},{"x":"CD8+ Tcell-CD8+ Tcell","y":"Ifng-Ifngr1","v":0.08},{"x":"CD8+ Tcell-B cell","y":"Ifng-Ifngr1","v":0},{"x":"CD8+ Tcell-pDC","y":"Ifng-Ifngr1","v":0},{"x":"CD8+ Tcell-NK","y":"Ifng-Ifngr1","v":0.1},{"x":"CD8+ Tcell-Th17","y":"Ifng-Ifngr1","v":0},{"x":"CD8+ Tcell-CD4+ Tcell","y":"Ifng-Ifngr1","v":0},{"x":"CD8+ Tcell-Th1","y":"Ifng-Ifngr1","v":0},
{"x":"B cell-Plasma cell","y":"Ifng-Ifngr1","v":0},{"x":"B cell-CD8+ Tcell","y":"Ifng-Ifngr1","v":0},{"x":"B cell-B cell","y":"Ifng-Ifngr1","v":0},{"x":"B cell-pDC","y":"Ifng-Ifngr1","v":0},{"x":"B cell-NK","y":"Ifng-Ifngr1","v":0},{"x":"B cell-Th17","y":"Ifng-Ifngr1","v":0},{"x":"B cell-CD4+ Tcell","y":"Ifng-Ifngr1","v":0},{"x":"B cell-Th1","y":"Ifng-Ifngr1","v":0},
{"x":"pDC-Plasma cell","y":"Ifng-Ifngr1","v":0},{"x":"pDC-CD8+ Tcell","y":"Ifng-Ifngr1","v":0},{"x":"pDC-B cell","y":"Ifng-Ifngr1","v":0},{"x":"pDC-pDC","y":"Ifng-Ifngr1","v":0},{"x":"pDC-NK","y":"Ifng-Ifngr1","v":0},{"x":"pDC-Th17","y":"Ifng-Ifngr1","v":0},{"x":"pDC-CD4+ Tcell","y":"Ifng-Ifngr1","v":0},{"x":"pDC-Th1","y":"Ifng-Ifngr1","v":0},
{"x":"NK-Plasma cell","y":"Ifng-Ifngr1","v":0.09},{"x":"NK-CD8+ Tcell","y":"Ifng-Ifngr1","v":0.27},{"x":"NK-B cell","y":"Ifng-Ifngr1","v":0},{"x":"NK-pDC","y":"Ifng-Ifngr1","v":0},{"x":"NK-NK","y":"Ifng-Ifngr1","v":0.27},{"x":"NK-Th17","y":"Ifng-Ifngr1","v":0},{"x":"NK-CD4+ Tcell","y":"Ifng-Ifngr1","v":0},{"x":"NK-Th1","y":"Ifng-Ifngr1","v":0},
{"x":"Th17-Plasma cell","y":"Ifng-Ifngr1","v":0},{"x":"Th17-CD8+ Tcell","y":"Ifng-Ifngr1","v":0},{"x":"Th17-B cell","y":"Ifng-Ifngr1","v":0},{"x":"Th17-pDC","y":"Ifng-Ifngr1","v":0},{"x":"Th17-NK","y":"Ifng-Ifngr1","v":0},{"x":"Th17-Th17","y":"Ifng-Ifngr1","v":0},{"x":"Th17-CD4+ Tcell","y":"Ifng-Ifngr1","v":0},{"x":"Th17-Th1","y":"Ifng-Ifngr1","v":0},
{"x":"CD4+ Tcell-Plasma cell","y":"Ifng-Ifngr1","v":0},{"x":"CD4+ Tcell-CD8+ Tcell","y":"Ifng-Ifngr1","v":0},{"x":"CD4+ Tcell-B cell","y":"Ifng-Ifngr1","v":0},{"x":"CD4+ Tcell-pDC","y":"Ifng-Ifngr1","v":0},{"x":"CD4+ Tcell-NK","y":"Ifng-Ifngr1","v":0},{"x":"CD4+ Tcell-Th17","y":"Ifng-Ifngr1","v":0},{"x":"CD4+ Tcell-CD4+ Tcell","y":"Ifng-Ifngr1","v":0},{"x":"CD4+ Tcell-Th1","y":"Ifng-Ifngr1","v":0},
{"x":"Th1-Plasma cell","y":"Ifng-Ifngr1","v":0.07},{"x":"Th1-CD8+ Tcell","y":"Ifng-Ifngr1","v":0.21},{"x":"Th1-B cell","y":"Ifng-Ifngr1","v":0},{"x":"Th1-pDC","y":"Ifng-Ifngr1","v":0},{"x":"Th1-NK","y":"Ifng-Ifngr1","v":0.21},{"x":"Th1-Th17","y":"Ifng-Ifngr1","v":0},{"x":"Th1-CD4+ Tcell","y":"Ifng-Ifngr1","v":0},{"x":"Th1-Th1","y":"Ifng-Ifngr1","v":0},

{"x":"Plasma cell-Plasma cell","y":"Ifng-Ifngr2","v":0},{"x":"Plasma cell-CD8+ Tcell","y":"Ifng-Ifngr2","v":0},{"x":"Plasma cell-B cell","y":"Ifng-Ifngr2","v":0},{"x":"Plasma cell-pDC","y":"Ifng-Ifngr2","v":0},{"x":"Plasma cell-NK","y":"Ifng-Ifngr2","v":0},{"x":"Plasma cell-Th17","y":"Ifng-Ifngr2","v":0},{"x":"Plasma cell-CD4+ Tcell","y":"Ifng-Ifngr2","v":0},{"x":"Plasma cell-Th1","y":"Ifng-Ifngr2","v":0},
{"x":"CD8+ Tcell-Plasma cell","y":"Ifng-Ifngr2","v":0.01},{"x":"CD8+ Tcell-CD8+ Tcell","y":"Ifng-Ifngr2","v":0},{"x":"CD8+ Tcell-B cell","y":"Ifng-Ifngr2","v":0},{"x":"CD8+ Tcell-pDC","y":"Ifng-Ifngr2","v":0},{"x":"CD8+ Tcell-NK","y":"Ifng-Ifngr2","v":0},{"x":"CD8+ Tcell-Th17","y":"Ifng-Ifngr2","v":0},{"x":"CD8+ Tcell-CD4+ Tcell","y":"Ifng-Ifngr2","v":0},{"x":"CD8+ Tcell-Th1","y":"Ifng-Ifngr2","v":0},
{"x":"B cell-Plasma cell","y":"Ifng-Ifngr2","v":0},{"x":"B cell-CD8+ Tcell","y":"Ifng-Ifngr2","v":0},{"x":"B cell-B cell","y":"Ifng-Ifngr2","v":0},{"x":"B cell-pDC","y":"Ifng-Ifngr2","v":0},{"x":"B cell-NK","y":"Ifng-Ifngr2","v":0},{"x":"B cell-Th17","y":"Ifng-Ifngr2","v":0},{"x":"B cell-CD4+ Tcell","y":"Ifng-Ifngr2","v":0},{"x":"B cell-Th1","y":"Ifng-Ifngr2","v":0},
{"x":"pDC-Plasma cell","y":"Ifng-Ifngr2","v":0},{"x":"pDC-CD8+ Tcell","y":"Ifng-Ifngr2","v":0},{"x":"pDC-B cell","y":"Ifng-Ifngr2","v":0},{"x":"pDC-pDC","y":"Ifng-Ifngr2","v":0},{"x":"pDC-NK","y":"Ifng-Ifngr2","v":0},{"x":"pDC-Th17","y":"Ifng-Ifngr2","v":0},{"x":"pDC-CD4+ Tcell","y":"Ifng-Ifngr2","v":0},{"x":"pDC-Th1","y":"Ifng-Ifngr2","v":0},
{"x":"NK-Plasma cell","y":"Ifng-Ifngr2","v":0.09},{"x":"NK-CD8+ Tcell","y":"Ifng-Ifngr2","v":0},{"x":"NK-B cell","y":"Ifng-Ifngr2","v":0},{"x":"NK-pDC","y":"Ifng-Ifngr2","v":0},{"x":"NK-NK","y":"Ifng-Ifngr2","v":0},{"x":"NK-Th17","y":"Ifng-Ifngr2","v":0},{"x":"NK-CD4+ Tcell","y":"Ifng-Ifngr2","v":0},{"x":"NK-Th1","y":"Ifng-Ifngr2","v":0},
{"x":"Th17-Plasma cell","y":"Ifng-Ifngr2","v":0},{"x":"Th17-CD8+ Tcell","y":"Ifng-Ifngr2","v":0},{"x":"Th17-B cell","y":"Ifng-Ifngr2","v":0},{"x":"Th17-pDC","y":"Ifng-Ifngr2","v":0},{"x":"Th17-NK","y":"Ifng-Ifngr2","v":0},{"x":"Th17-Th17","y":"Ifng-Ifngr2","v":0},{"x":"Th17-CD4+ Tcell","y":"Ifng-Ifngr2","v":0},{"x":"Th17-Th1","y":"Ifng-Ifngr2","v":0},
{"x":"CD4+ Tcell-Plasma cell","y":"Ifng-Ifngr2","v":0},{"x":"CD4+ Tcell-CD8+ Tcell","y":"Ifng-Ifngr2","v":0},{"x":"CD4+ Tcell-B cell","y":"Ifng-Ifngr2","v":0},{"x":"CD4+ Tcell-pDC","y":"Ifng-Ifngr2","v":0},{"x":"CD4+ Tcell-NK","y":"Ifng-Ifngr2","v":0},{"x":"CD4+ Tcell-Th17","y":"Ifng-Ifngr2","v":0},{"x":"CD4+ Tcell-CD4+ Tcell","y":"Ifng-Ifngr2","v":0},{"x":"CD4+ Tcell-Th1","y":"Ifng-Ifngr2","v":0},
{"x":"Th1-Plasma cell","y":"Ifng-Ifngr2","v":0.09},{"x":"Th1-CD8+ Tcell","y":"Ifng-Ifngr2","v":0},{"x":"Th1-B cell","y":"Ifng-Ifngr2","v":0},{"x":"Th1-pDC","y":"Ifng-Ifngr2","v":0},{"x":"Th1-NK","y":"Ifng-Ifngr2","v":0},{"x":"Th1-Th17","y":"Ifng-Ifngr2","v":0},{"x":"Th1-CD4+ Tcell","y":"Ifng-Ifngr2","v":0},{"x":"Th1-Th1","y":"Ifng-Ifngr2","v":0},

{"x":"Plasma cell-Plasma cell","y":"Tgfb1-Tgfbr2","v":0.03},{"x":"Plasma cell-CD8+ Tcell","y":"Tgfb1-Tgfbr2","v":0},{"x":"Plasma cell-B cell","y":"Tgfb1-Tgfbr2","v":0.06},{"x":"Plasma cell-pDC","y":"Tgfb1-Tgfbr2","v":0.03},{"x":"Plasma cell-NK","y":"Tgfb1-Tgfbr2","v":0},{"x":"Plasma cell-Th17","y":"Tgfb1-Tgfbr2","v":0},{"x":"Plasma cell-CD4+ Tcell","y":"Tgfb1-Tgfbr2","v":0},{"x":"Plasma cell-Th1","y":"Tgfb1-Tgfbr2","v":0},
{"x":"CD8+ Tcell-Plasma cell","y":"Tgfb1-Tgfbr2","v":0},{"x":"CD8+ Tcell-CD8+ Tcell","y":"Tgfb1-Tgfbr2","v":0},{"x":"CD8+ Tcell-B cell","y":"Tgfb1-Tgfbr2","v":0},{"x":"CD8+ Tcell-pDC","y":"Tgfb1-Tgfbr2","v":0},{"x":"CD8+ Tcell-NK","y":"Tgfb1-Tgfbr2","v":0},{"x":"CD8+ Tcell-Th17","y":"Tgfb1-Tgfbr2","v":0},{"x":"CD8+ Tcell-CD4+ Tcell","y":"Tgfb1-Tgfbr2","v":0},{"x":"CD8+ Tcell-Th1","y":"Tgfb1-Tgfbr2","v":0},
{"x":"B cell-Plasma cell","y":"Tgfb1-Tgfbr2","v":0.06},{"x":"B cell-CD8+ Tcell","y":"Tgfb1-Tgfbr2","v":0},{"x":"B cell-B cell","y":"Tgfb1-Tgfbr2","v":0.12},{"x":"B cell-pDC","y":"Tgfb1-Tgfbr2","v":0.1},{"x":"B cell-NK","y":"Tgfb1-Tgfbr2","v":0},{"x":"B cell-Th17","y":"Tgfb1-Tgfbr2","v":0},{"x":"B cell-CD4+ Tcell","y":"Tgfb1-Tgfbr2","v":0},{"x":"B cell-Th1","y":"Tgfb1-Tgfbr2","v":0},
{"x":"pDC-Plasma cell","y":"Tgfb1-Tgfbr2","v":0.07},{"x":"pDC-CD8+ Tcell","y":"Tgfb1-Tgfbr2","v":0},{"x":"pDC-B cell","y":"Tgfb1-Tgfbr2","v":0.15},{"x":"pDC-pDC","y":"Tgfb1-Tgfbr2","v":0.15},{"x":"pDC-NK","y":"Tgfb1-Tgfbr2","v":0},{"x":"pDC-Th17","y":"Tgfb1-Tgfbr2","v":0},{"x":"pDC-CD4+ Tcell","y":"Tgfb1-Tgfbr2","v":0},{"x":"pDC-Th1","y":"Tgfb1-Tgfbr2","v":0},
{"x":"NK-Plasma cell","y":"Tgfb1-Tgfbr2","v":0},{"x":"NK-CD8+ Tcell","y":"Tgfb1-Tgfbr2","v":0},{"x":"NK-B cell","y":"Tgfb1-Tgfbr2","v":0},{"x":"NK-pDC","y":"Tgfb1-Tgfbr2","v":0},{"x":"NK-NK","y":"Tgfb1-Tgfbr2","v":0},{"x":"NK-Th17","y":"Tgfb1-Tgfbr2","v":0},{"x":"NK-CD4+ Tcell","y":"Tgfb1-Tgfbr2","v":0},{"x":"NK-Th1","y":"Tgfb1-Tgfbr2","v":0},
{"x":"Th17-Plasma cell","y":"Tgfb1-Tgfbr2","v":0},{"x":"Th17-CD8+ Tcell","y":"Tgfb1-Tgfbr2","v":0},{"x":"Th17-B cell","y":"Tgfb1-Tgfbr2","v":0},{"x":"Th17-pDC","y":"Tgfb1-Tgfbr2","v":0},{"x":"Th17-NK","y":"Tgfb1-Tgfbr2","v":0},{"x":"Th17-Th17","y":"Tgfb1-Tgfbr2","v":0},{"x":"Th17-CD4+ Tcell","y":"Tgfb1-Tgfbr2","v":0},{"x":"Th17-Th1","y":"Tgfb1-Tgfbr2","v":0},
{"x":"CD4+ Tcell-Plasma cell","y":"Tgfb1-Tgfbr2","v":0},{"x":"CD4+ Tcell-CD8+ Tcell","y":"Tgfb1-Tgfbr2","v":0},{"x":"CD4+ Tcell-B cell","y":"Tgfb1-Tgfbr2","v":0},{"x":"CD4+ Tcell-pDC","y":"Tgfb1-Tgfbr2","v":0},{"x":"CD4+ Tcell-NK","y":"Tgfb1-Tgfbr2","v":0},{"x":"CD4+ Tcell-Th17","y":"Tgfb1-Tgfbr2","v":0},{"x":"CD4+ Tcell-CD4+ Tcell","y":"Tgfb1-Tgfbr2","v":0},{"x":"CD4+ Tcell-Th1","y":"Tgfb1-Tgfbr2","v":0},
{"x":"Th1-Plasma cell","y":"Tgfb1-Tgfbr2","v":0.06},{"x":"Th1-CD8+ Tcell","y":"Tgfb1-Tgfbr2","v":0},{"x":"Th1-B cell","y":"Tgfb1-Tgfbr2","v":0.08},{"x":"Th1-pDC","y":"Tgfb1-Tgfbr2","v":0.08},{"x":"Th1-NK","y":"Tgfb1-Tgfbr2","v":0},{"x":"Th1-Th17","y":"Tgfb1-Tgfbr2","v":0},{"x":"Th1-CD4+ Tcell","y":"Tgfb1-Tgfbr2","v":0},{"x":"Th1-Th1","y":"Tgfb1-Tgfbr2","v":0}
    ]
  },
  "data": {"name": "cells"},
  "mark": {"type": "rect", "stroke": "#9b9b9b", "strokeWidth": 1},
  "encoding": {
    "x": {
      "field": "x", "type": "nominal", "sort": null,
      "scale": {"paddingInner": 0, "paddingOuter": 0},
      "axis": {"orient": "bottom", "title": null, "labelAngle": -45, "labelAlign": "right", "labelBaseline": "top", "labelPadding": 4, "ticks": false, "domain": false, "labelOverlap": false, "labelLimit": 0, "labelBound": false, "labelFont": "Liberation Sans", "labelFontSize": 12.5, "labelColor": "#000000"}
    },
    "y": {
      "field": "y", "type": "nominal", "sort": null,
      "scale": {"paddingInner": 0, "paddingOuter": 0},
      "axis": {"orient": "right", "title": null, "ticks": false, "domain": false, "labelPadding": 3, "labelAlign": "left", "labelBaseline": "middle", "labelFont": "Liberation Sans", "labelFontSize": 12.5, "labelColor": "#000000", "labelOverlap": false, "labelLimit": 0}
    },
    "color": {
      "field": "v", "type": "quantitative",
      "scale": {"domain": [0, 1], "range": ["#4575B4", "#91BFDB", "#E0F3F8", "#FFFFBF", "#FEE090", "#FC8D59", "#D73027"], "interpolate": "rgb"},
      "legend": {"orient": "none", "legendX": 1041, "legendY": 0, "direction": "vertical", "title": null, "gradientLength": 166, "gradientThickness": 12, "gradientStrokeWidth": 0, "values": [0, 0.2, 0.4, 0.6, 0.8, 1], "format": "~g", "labelFont": "Liberation Sans", "labelFontSize": 12.5, "labelColor": "#000000", "labelOffset": 4, "labelBaseline": "middle", "labelOverlap": false}
    }
  }
}
